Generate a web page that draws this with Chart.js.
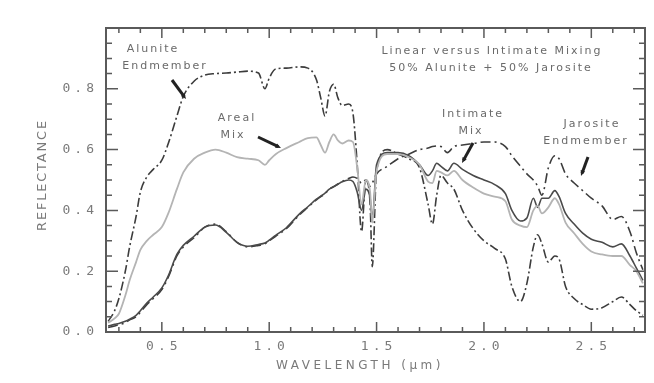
<!DOCTYPE html>
<html>
<head>
<meta charset="utf-8">
<script src="https://cdn.jsdelivr.net/npm/chart.js@4.4.1/dist/chart.umd.min.js"></script>
<style>
  html, body { margin: 0; padding: 0; background: #fff; }
  #wrap { width: 654px; height: 383px; position: relative; }
</style>
</head>
<body>
<div id="wrap"><canvas id="chart"></canvas></div>
<script>
// wavelength grid (um) shared by all four spectra
const wavelengths = [0.25, 0.28, 0.30, 0.33, 0.35, 0.38, 0.40, 0.43, 0.46, 0.50,
    0.53, 0.57, 0.60, 0.65, 0.70, 0.75, 0.80, 0.85, 0.90, 0.95,
    0.98, 1.00, 1.03, 1.08, 1.14, 1.18, 1.22, 1.24, 1.26, 1.28,
    1.30, 1.32, 1.34, 1.37, 1.39, 1.41, 1.43, 1.45, 1.47, 1.48,
    1.50, 1.55, 1.60, 1.65, 1.70, 1.74, 1.76, 1.78, 1.80, 1.83,
    1.86, 1.90, 1.95, 2.00, 2.05, 2.10, 2.13, 2.17, 2.20, 2.23,
    2.25, 2.27, 2.30, 2.33, 2.35, 2.38, 2.42, 2.46, 2.50, 2.55,
    2.60, 2.64, 2.68, 2.71, 2.74];

const alunite = [0.035, 0.07, 0.11, 0.20, 0.28, 0.38, 0.46, 0.51, 0.535, 0.565,
    0.62, 0.71, 0.775, 0.825, 0.845, 0.85, 0.852, 0.855, 0.858, 0.852,
    0.80, 0.835, 0.865, 0.868, 0.872, 0.868, 0.83, 0.77, 0.71, 0.79,
    0.815, 0.77, 0.745, 0.75, 0.72, 0.55, 0.33, 0.50, 0.42, 0.215,
    0.53, 0.60, 0.585, 0.57, 0.54, 0.42, 0.355, 0.45, 0.515, 0.49,
    0.47, 0.40, 0.34, 0.30, 0.275, 0.24, 0.15, 0.10, 0.16, 0.28,
    0.32, 0.29, 0.23, 0.25, 0.24, 0.15, 0.11, 0.09, 0.075, 0.08,
    0.10, 0.115, 0.09, 0.07, 0.055];

const arealMix = [0.03, 0.045, 0.06, 0.12, 0.17, 0.23, 0.27, 0.30, 0.32, 0.345,
    0.39, 0.47, 0.525, 0.57, 0.59, 0.60, 0.59, 0.575, 0.57, 0.565,
    0.55, 0.565, 0.585, 0.605, 0.625, 0.638, 0.64, 0.615, 0.59, 0.625,
    0.65, 0.63, 0.62, 0.63, 0.625, 0.54, 0.42, 0.50, 0.46, 0.36,
    0.53, 0.585, 0.585, 0.575, 0.55, 0.495, 0.49, 0.53, 0.525, 0.515,
    0.53, 0.50, 0.475, 0.455, 0.445, 0.43, 0.37, 0.35, 0.345, 0.40,
    0.415, 0.39, 0.41, 0.44, 0.42, 0.36, 0.325, 0.29, 0.265, 0.255,
    0.25, 0.25, 0.22, 0.20, 0.16];

const intimateMix = [0.02, 0.025, 0.028, 0.035, 0.042, 0.055, 0.07, 0.095, 0.115, 0.145,
    0.185, 0.255, 0.285, 0.315, 0.345, 0.352, 0.328, 0.295, 0.282, 0.288,
    0.293, 0.302, 0.318, 0.343, 0.388, 0.412, 0.437, 0.447, 0.457, 0.47,
    0.478, 0.486, 0.494, 0.50, 0.495, 0.46, 0.40, 0.47, 0.44, 0.37,
    0.55, 0.59, 0.59, 0.58, 0.55, 0.515, 0.53, 0.555, 0.545, 0.53,
    0.555, 0.535, 0.515, 0.50, 0.485, 0.455, 0.40, 0.365, 0.375, 0.44,
    0.41, 0.44, 0.44, 0.465, 0.445, 0.39, 0.355, 0.325, 0.305, 0.295,
    0.28, 0.29, 0.25, 0.21, 0.17];

const jarosite = [0.015, 0.02, 0.025, 0.03, 0.04, 0.05, 0.065, 0.09, 0.11, 0.14,
    0.18, 0.25, 0.28, 0.31, 0.345, 0.355, 0.33, 0.295, 0.28, 0.285,
    0.29, 0.30, 0.315, 0.34, 0.385, 0.41, 0.435, 0.445, 0.455, 0.47,
    0.478, 0.487, 0.495, 0.505, 0.51, 0.505, 0.49, 0.50, 0.48, 0.49,
    0.52, 0.545, 0.57, 0.585, 0.60, 0.605, 0.61, 0.612, 0.61, 0.59,
    0.61, 0.615, 0.62, 0.625, 0.625, 0.61, 0.58, 0.545, 0.52, 0.50,
    0.48, 0.45, 0.54, 0.58, 0.57, 0.52, 0.49, 0.465, 0.44, 0.415,
    0.37, 0.38, 0.33, 0.26, 0.205];

const xTickValues = [0.5, 1.0, 1.5, 2.0, 2.5];
const xTickLabels = ['0.5', '1.0', '1.5', '2.0', '2.5'];
const yTickValues = [0.0, 0.2, 0.4, 0.6, 0.8];
const yTickLabels = ['0.0', '0.2', '0.4', '0.6', '0.8'];

const toPoints = vals => wavelengths.map((w, k) => ({ x: w, y: vals[k] }));

const textGray = '#7a7a7a';
const lineDark = '#3c3c3c';

// frame, inward ticks, labels and callouts
const decorPlugin = {
    id: 'decor',
    afterDraw(chart) {
        const { ctx, chartArea: a, scales } = chart;
        const xs = scales.x, ys = scales.y;
        ctx.save();

        // frame
        ctx.strokeStyle = '#5a5a5a';
        ctx.lineWidth = 2;
        ctx.strokeRect(a.left, a.top, a.right - a.left, a.bottom - a.top);

        // x ticks every 0.1, long at 0.5
        ctx.lineWidth = 1.5;
        for (let t = 3; t <= 27; t++) {
            const px = xs.getPixelForValue(t / 10);
            const len = t % 5 === 0 ? 10 : 5;
            ctx.beginPath();
            ctx.moveTo(px, a.bottom); ctx.lineTo(px, a.bottom - len);
            ctx.moveTo(px, a.top); ctx.lineTo(px, a.top + len);
            ctx.stroke();
        }
        // y ticks every 0.05, long at 0.2
        for (let t = 1; t < 20; t++) {
            const py = ys.getPixelForValue(t / 20);
            const len = t % 4 === 0 ? 12 : 6;
            ctx.beginPath();
            ctx.moveTo(a.left, py); ctx.lineTo(a.left + len, py);
            ctx.moveTo(a.right, py); ctx.lineTo(a.right - len, py);
            ctx.stroke();
        }

        // tick labels
        ctx.fillStyle = textGray;
        ctx.font = '13px "DejaVu Sans Mono"';
        ctx.letterSpacing = '4px';
        ctx.textBaseline = 'middle';
        ctx.textAlign = 'right';
        yTickValues.forEach((v, k) => {
            ctx.fillText(yTickLabels[k], a.left - 8, ys.getPixelForValue(v));
        });
        ctx.textAlign = 'center';
        xTickValues.forEach((v, k) => {
            ctx.fillText(xTickLabels[k], xs.getPixelForValue(v) + 2, a.bottom + 15);
        });

        // axis titles
        ctx.font = '12px "DejaVu Sans"';
        ctx.letterSpacing = '3.5px';
        ctx.fillText('WAVELENGTH (\u00b5m)', 360, 366);
        ctx.save();
        ctx.translate(43, 175);
        ctx.rotate(-Math.PI / 2);
        ctx.font = '13px "DejaVu Sans"';
        ctx.letterSpacing = '1.8px';
        ctx.fillText('REFLECTANCE', 0, 0);
        ctx.restore();

        // in-plot text
        ctx.fillStyle = '#6a6a6a';
        ctx.font = '11px "DejaVu Sans"';
        ctx.letterSpacing = '2px';
        const lines = [
            ['Linear versus Intimate Mixing', 492, 51],
            ['50% Alunite + 50% Jarosite', 491, 68],
            ['Alunite', 153, 49],
            ['Endmember', 165, 66],
            ['Areal', 237, 118],
            ['Mix', 233, 135],
            ['Intimate', 473, 114],
            ['Mix', 471, 131],
            ['Jarosite', 592, 124],
            ['Endmember', 586, 141]
        ];
        lines.forEach(([s, x, y]) => ctx.fillText(s, x, y));

        // arrows
        const arrows = [
            [172, 80, 186, 99],
            [258, 137, 281, 148],
            [473, 143, 462, 163],
            [588, 157, 581, 176]
        ];
        ctx.strokeStyle = '#222';
        ctx.fillStyle = '#222';
        arrows.forEach(([x1, y1, x2, y2]) => {
            const ang = Math.atan2(y2 - y1, x2 - x1);
            ctx.lineWidth = 3;
            ctx.beginPath();
            ctx.moveTo(x1, y1);
            ctx.lineTo(x2 - 3 * Math.cos(ang), y2 - 3 * Math.sin(ang));
            ctx.stroke();
            ctx.beginPath();
            ctx.moveTo(x2, y2);
            ctx.lineTo(x2 - 6 * Math.cos(ang - 0.4), y2 - 6 * Math.sin(ang - 0.4));
            ctx.lineTo(x2 - 6 * Math.cos(ang + 0.4), y2 - 6 * Math.sin(ang + 0.4));
            ctx.closePath();
            ctx.fill();
        });

        ctx.restore();
    }
};

const ctx = document.getElementById('chart').getContext('2d');

new Chart(ctx, {
    type: 'line',
    data: {
        datasets: [
            {
                label: 'Areal Mix',
                data: toPoints(arealMix),
                borderColor: '#b4b4b4',
                borderWidth: 1.8
            },
            {
                label: 'Intimate Mix',
                data: toPoints(intimateMix),
                borderColor: '#4a4a4a',
                borderWidth: 1.6
            },
            {
                label: 'Jarosite Endmember',
                data: toPoints(jarosite),
                borderColor: lineDark,
                borderWidth: 1.6,
                borderDash: [10, 4, 2, 4]
            },
            {
                label: 'Alunite Endmember',
                data: toPoints(alunite),
                borderColor: lineDark,
                borderWidth: 1.6,
                borderDash: [9, 3, 2, 3]
            }
        ]
    },
    options: {
        responsive: true,
        maintainAspectRatio: false,
        animation: false,
        layout: { padding: { left: 106, right: 9, top: 28, bottom: 51 } },
        elements: {
            point: { radius: 0 },
            line: { cubicInterpolationMode: 'monotone', fill: false }
        },
        plugins: {
            legend: { display: false },
            tooltip: { enabled: false }
        },
        scales: {
            x: { type: 'linear', min: 0.24, max: 2.75, display: false },
            y: { type: 'linear', min: 0, max: 1.0, display: false }
        }
    },
    plugins: [decorPlugin]
});
</script>
</body>
</html>
